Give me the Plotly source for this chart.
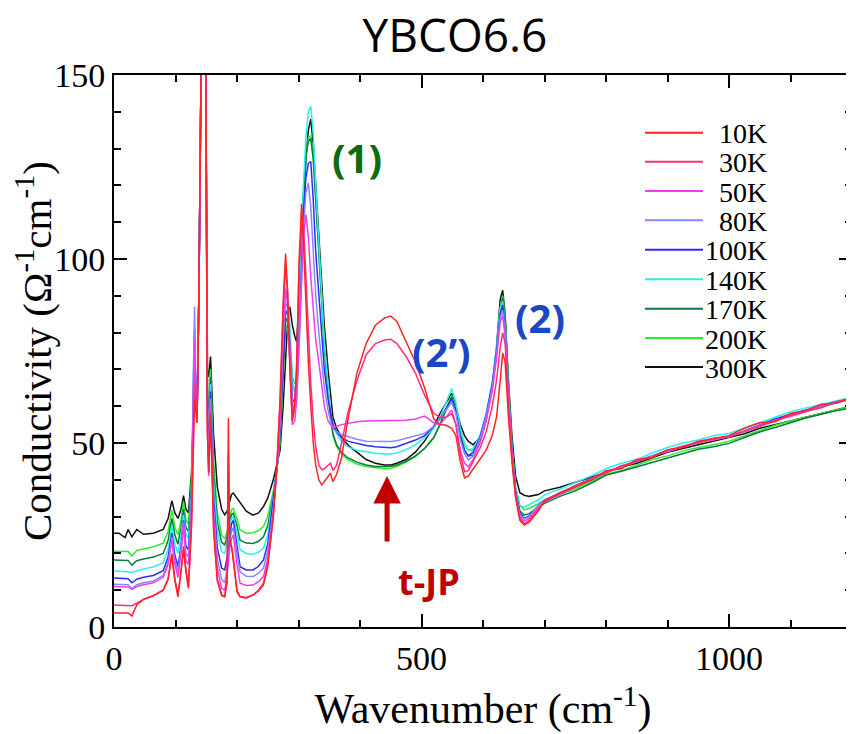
import plotly.graph_objects as go

# ---------------- data ----------------
wavenumber = [
    0, 8, 18, 23, 29, 37, 48, 64, 80, 88,
    94, 99, 104, 109, 113, 117, 121, 126, 129, 131, 133, 135, 138, 141, 145, 149, 152, 154, 157, 162, 168, 175,
    180, 184, 186, 188, 191, 194, 200, 205, 215, 226, 235, 243, 250, 259, 265, 270, 275,
    279, 282, 286, 290, 294, 297, 301, 305, 308, 312, 316, 320, 324, 328, 333, 338, 342, 348, 352, 356,
    362, 370, 380, 395, 410, 425, 440, 450, 460, 475, 490, 505, 520, 530, 540, 549, 556, 563, 570, 576, 584,
    595, 605, 615, 622, 628, 632, 636, 641, 647, 653, 660, 667, 675, 690,
    700, 725, 750, 775, 800, 825, 850, 875, 900, 925, 950, 975, 1000, 1025, 1050, 1075, 1100, 1125, 1150, 1175, 1200,
]

s10K = [
    3.8, 3.8, 3.8, 3.8, 3.0, 6.0, 7.5, 8.5, 10, 13,
    19.5, 12.5, 8.2, 14.5, 21, 15, 10.5, 27, 48, 62, 59, 55.5, 90, 160, 210, 160, 52, 42, 58, 26, 12.5, 8.5,
    8.2, 13, 56.8, 24, 22, 18, 9.5, 8.2, 7.8, 8.7, 9.8, 11.4, 16.5, 30, 45, 62, 88,
    101.5, 92, 70, 56, 62, 70, 100, 115, 105, 88, 72, 60, 50, 44, 40, 38.6, 39.5, 41, 41.8, 39.5,
    41.5, 46, 56, 69, 77, 82, 84, 84.5, 83, 77.5, 72, 65, 56.5, 55, 54.8, 54, 52, 45, 40.5, 41, 43,
    45.5, 48, 52, 57, 67, 74.5, 72, 58, 45, 35, 29, 27.7, 28.5, 31.5,
    34.3, 36.5, 38, 39.8, 42.5, 43, 45.5, 46, 48.2, 48.8, 50.5, 51.2, 52, 54, 55.5, 55.8, 58, 58.8, 60.5, 60.8, 62.5,
]
s30K = [
    6, 6, 6, 6, 5.8, 6.5, 7.5, 8.5, 10, 13,
    20, 13, 9, 15, 22, 15.5, 11, 28, 50, 66, 60, 55.5, 90, 160, 210, 160, 53, 42, 58, 27, 13, 8.8,
    8.3, 12, 46.7, 22, 22, 19, 10, 8.3, 8, 8.7, 10, 11.9, 17, 30, 44, 60, 86,
    98, 92, 72, 56, 60, 72, 98, 109, 110, 95, 78, 66, 56, 49, 44, 42.7, 43, 44, 44.5, 42.5,
    44, 50, 58, 67, 74, 77, 78, 78.2, 77, 73.5, 69, 63, 58, 57, 57, 58, 55, 47, 42.2, 42.5, 45,
    48.5, 53, 60, 67, 76, 80, 77, 62, 46, 36, 29.5, 28, 29, 32,
    34, 36.2, 38.5, 40, 42, 43.8, 45, 46.2, 48, 49.2, 50, 51.3, 51.6, 53.2, 54.5, 56, 57.5, 58.6, 59.6, 61.2, 62.2,
]
s50K = [
    11, 11, 11, 10.9, 10.2, 11, 11.5, 12, 13.5, 17,
    23.5, 17, 13.5, 20, 28, 18, 17, 32, 60, 78, 63, 56, 90, 160, 210, 160, 54, 41, 60, 29, 16, 10.5,
    10, 14, 18, 21, 24, 25, 17, 11.9, 11.3, 11.4, 12.3, 13.7, 18.5, 31, 43, 57, 80,
    92, 88, 72, 55, 56, 62, 78, 95, 106, 112, 106, 95, 85, 78, 72, 65, 60, 56, 55, 54.4,
    54.5, 55, 55.3, 55.8, 56, 56, 56, 56.2, 56, 56.2, 56.5, 57.3, 55.5, 55, 57, 59, 55, 48, 44.5, 43.5, 45.5,
    50, 56, 64, 73, 83, 84.5, 79, 63, 47, 36, 30, 28.7, 29.5, 32.5,
    34.3, 36, 38, 40.3, 42.2, 43.3, 45.2, 46.5, 47.6, 49, 50.3, 50.8, 51.7, 53.2, 54.6, 56.2, 57.2, 58.5, 59.8, 61, 61.8,
]
s80K = [
    11.6, 11.6, 11.5, 11.5, 10.4, 11.5, 12, 12.5, 14, 17.5,
    24.5, 18, 15, 21, 28.5, 20, 19, 33, 68, 87, 65, 56, 90, 160, 210, 160, 56, 46, 62, 32, 18.5, 13,
    12, 16, 19.5, 23, 26, 27, 20, 15, 13.8, 13.7, 14.6, 16, 20.5, 32, 43, 55, 78,
    88, 87, 77, 60, 58, 62, 76, 95, 108, 118, 120.6, 114, 102, 90, 80, 72, 65, 59, 56, 54,
    53, 52.3, 51.7, 51, 50.5, 50.4, 50.4, 50.4, 50.6, 51.2, 52, 52.6, 54.5, 56.5, 59, 61, 58, 51, 47, 45.4, 46.5,
    51, 57, 65, 74, 84, 86, 80, 64, 47, 36, 30.5, 29.3, 30, 33,
    34.5, 36.2, 38, 40, 42, 43.5, 45, 46.3, 47.8, 49, 50, 51, 51.7, 53, 54.8, 56.2, 57.5, 58.8, 60, 61, 62,
]
s100K = [
    13.3, 13.3, 13.2, 13.1, 12, 13, 13.5, 14, 15.3, 19,
    25.5, 19.5, 16.5, 22, 29, 22, 21, 34, 65, 81, 64, 56.5, 90, 160, 210, 160, 58, 48, 64, 35, 21.5, 16,
    15.5, 19, 22, 25, 28, 29, 22, 16.4, 15.5, 15.5, 16.5, 18.2, 22.5, 34, 43, 53, 73,
    86, 85, 77, 62, 61, 64, 78, 98, 112, 122, 126, 126.5, 116, 102, 90, 78, 70, 62, 58, 55,
    53, 51.5, 50.5, 49.8, 49.3, 49, 48.7, 48.7, 49, 49.8, 50.8, 52, 54.5, 56.5, 59.5, 62, 58.5, 52, 48, 46.5, 47.5,
    51.5, 57.5, 66, 75, 85, 87.5, 81, 65, 48, 37, 31, 29.5, 30.2, 33,
    34.5, 36.4, 38.3, 40.2, 42.2, 43.5, 45, 46.5, 48, 49, 50.2, 51, 51.8, 53.3, 55, 56.5, 57.8, 59, 60.2, 61.2, 62,
]
s140K = [
    15.2, 15.2, 15.1, 15, 14.8, 15.3, 15.8, 16.3, 17.5, 21,
    27.5, 22.5, 20, 25, 30.5, 25, 24, 36, 62, 76, 63, 56.5, 90, 160, 210, 160, 60, 53, 66, 39, 26, 20.5,
    20, 23, 25.5, 27.5, 29.5, 30, 25.5, 21, 20, 19.8, 20.3, 21.4, 25, 35, 43, 53, 75,
    91, 91.6, 82, 66, 64, 67, 83, 105, 120, 133, 140, 141.4, 134, 120, 104, 88, 77, 66, 59, 55,
    52.5, 50.5, 49, 48, 47.5, 47.2, 47, 47, 47.3, 48.2, 49.5, 51.5, 54, 57, 61, 64.8, 61, 54, 50, 48, 48.5,
    52, 58, 66.5, 76, 86.5, 88.5, 82, 66, 49, 38, 33, 32.5, 33.3, 34.5,
    35.9, 37.5, 39.2, 41, 43, 44.5, 45.5, 47.3, 48.8, 50, 50.8, 52, 52.6, 54, 55.6, 57, 58.5, 59.5, 60.5, 61.5, 62.5,
]
s170K = [
    18.2, 18.2, 18.2, 18.1, 16.8, 18, 18.5, 19, 20, 23.5,
    29.5, 25, 22.5, 27, 32, 27, 26, 38, 58, 72, 62, 57, 90, 160, 210, 160, 63, 57, 68, 42, 28.5, 23,
    22.3, 24.5, 26.5, 28.5, 30.5, 30.9, 27.5, 23.6, 22.8, 22.7, 23.3, 24.5, 27.5, 36, 43, 51, 68,
    84, 83, 78, 66, 64, 66, 82, 104, 118, 128, 132, 132.8, 127, 116, 102, 87, 76, 64, 57, 52.5,
    49.5, 47.5, 46, 44.8, 44, 43.6, 43.5, 43.6, 44, 45, 46.5, 48.5, 51.5, 55, 59, 62.5, 59, 52, 48, 46.5, 46.7,
    50, 56, 65, 75, 86, 89.5, 84, 66, 48, 37, 31.5, 30.4, 30.8, 32.5,
    33.6, 35.5, 37, 39, 41.3, 42.3, 43.5, 44.8, 46, 47.3, 48.3, 49, 49.9, 51.5, 53, 54.2, 55.5, 56.8, 57.8, 58.8, 59.5,
]
s200K = [
    20.6, 20.6, 20.6, 20.5, 19.3, 20.8, 21.2, 21.8, 22.8, 26,
    31.8, 27, 25, 29, 34, 29, 28, 40, 60, 74, 63, 57, 90, 160, 210, 160, 65, 60, 70, 45, 31, 25,
    24, 26, 28, 30, 31.8, 32.2, 29.5, 26.4, 25.5, 25.6, 26.2, 27.3, 30, 37, 43, 50, 66,
    82, 81, 78, 68, 66, 67, 82, 104, 118, 128, 133, 133.5, 128, 117, 103, 88, 77, 64, 57, 52,
    49, 47, 45.5, 44.3, 43.6, 43.2, 43, 43.1, 43.6, 44.8, 46.3, 48.5, 51.5, 55, 59.5, 63, 59.5, 53, 49.5, 48, 48,
    51, 57, 65.5, 75.5, 87, 90, 84.5, 66.5, 49, 38, 33, 31.8, 32.2, 33.5,
    34.5, 36, 37.5, 39.5, 41.5, 42.5, 44, 45.5, 46.5, 47.8, 48.8, 49.5, 50.5, 52, 53.5, 54.8, 56, 57, 58, 59, 60,
]
s300K = [
    25.5, 25.5, 24.3, 26.5, 24.5, 26.5, 25.2, 25.5, 26.5, 29.5,
    34.3, 31, 29.5, 32, 35.7, 32, 31, 42, 55, 65, 61, 58, 90, 160, 210, 160, 70, 68, 73.5, 52, 38, 32,
    30.5, 31.5, 33, 34.5, 36, 36.4, 35, 33.6, 31.5, 30.4, 31, 32.7, 35, 40, 44, 48, 60,
    73, 82, 87, 82, 79, 77.5, 88, 103, 115, 127, 135, 138, 131, 120, 108, 93, 82, 70, 63, 57,
    54, 51.5, 49.5, 47.5, 45.5, 44.5, 44, 44, 44.5, 45.5, 47.5, 50.5, 54.5, 58, 61, 63.5, 60, 55, 52, 50.5, 49.5,
    51.5, 57, 65, 76, 89, 91.5, 85, 68, 52, 41, 36.5, 35.8, 35.5, 36,
    37, 38, 39.3, 40.5, 42, 43.5, 44.5, 46, 47.5, 48.5, 49.5, 50.5, 51.3, 52.5, 54, 55, 56, 57, 58, 59, 60,
]

series_labels = ["10K", "30K", "50K", "80K", "100K", "140K", "170K", "200K", "300K"]
series_values = [s10K, s30K, s50K, s80K, s100K, s140K, s170K, s200K, s300K]
series_colors = ["#ff2424", "#ff2d7e", "#f03cf0", "#8686ff", "#2c2cf5",
                 "#28f0f0", "#0b7a3e", "#2aee2a", "#111111"]

x_ticks = [0, 500, 1000]
y_ticks = [0, 50, 100, 150]

for v in series_values:
    assert len(v) == len(wavenumber), len(v)

# ---------------- figure ----------------
# The page body has an 8 px default margin, so the figure is drawn 8 px smaller
# and the margins are shifted to keep the plot area where the reference has it.
OFF = 8
W, H = 854 - OFF, 734 - OFF
PLOT_L, PLOT_R, PLOT_T, PLOT_B = 114, 852, 75, 627          # screen pixels
ML, MR = PLOT_L - OFF, W - (PLOT_R - OFF)
MT, MB = PLOT_T - OFF, H - (PLOT_B - OFF)
PW, PH = PLOT_R - PLOT_L, PLOT_B - PLOT_T


def px_x(p):  # screen pixel -> paper x
    return (p - PLOT_L) / PW


def px_y(p):  # screen pixel -> paper y
    return (PLOT_B - p) / PH


fig = go.Figure()
# draw warm curves first so the cold ones sit on top like in the reference
for lab, vals, col in reversed(list(zip(series_labels, series_values, series_colors))):
    fig.add_trace(go.Scatter(x=wavenumber, y=vals, mode="lines", name=lab,
                             line=dict(color=col, width=1.5), showlegend=False))

serif = "Liberation Serif, Times New Roman, serif"
axis_common = dict(
    showline=True, linewidth=2, linecolor="black", mirror="allticks",
    ticks="inside", ticklen=13, tickwidth=1.5, tickcolor="black",
    showgrid=False, zeroline=False, automargin=False,
    tickfont=dict(family=serif, size=34, color="black"),
)
fig.update_xaxes(range=[0, 1200], tickvals=x_ticks, ticktext=[str(t) for t in x_ticks],
                 minor=dict(dtick=100, tick0=0, ticks="inside", ticklen=7, tickwidth=1.5, tickcolor="black"),
                 title=dict(text="Wavenumber (cm<sup>-1</sup>)", font=dict(family=serif, size=42, color="black"),
                            standoff=18),
                 **axis_common)
fig.update_yaxes(range=[0, 150], tickvals=y_ticks, ticktext=[str(t) for t in y_ticks],
                 minor=dict(dtick=10, tick0=0, ticks="inside", ticklen=7, tickwidth=1.5, tickcolor="black"),
                 title=dict(text="Conductivity (\u03a9<sup>-1</sup>cm<sup>-1</sup>)",
                            font=dict(family=serif, size=41, color="black"), standoff=0),
                 **axis_common)

# legend drawn by hand (long line samples, right-aligned labels as in the reference)
leg_y_px = [132.7, 161.7, 191, 220.3, 249.7, 279.3, 308.7, 338, 367]
shapes = []
annotations = []
for lab, col, ypx in zip(series_labels, series_colors, leg_y_px):
    shapes.append(dict(type="line", xref="paper", yref="paper",
                       x0=px_x(645), x1=px_x(703), y0=px_y(ypx), y1=px_y(ypx),
                       line=dict(color=col, width=2)))
    annotations.append(dict(text=lab, xref="paper", yref="paper", x=px_x(769), y=px_y(ypx + 1),
                            xanchor="right", yanchor="middle", showarrow=False,
                            font=dict(family=serif, size=28, color="black")))

bold = "Open Sans, Noto Sans, sans-serif"
annotations += [
    dict(text="<b>(1)</b>", x=395, y=127.6, xref="x", yref="y", showarrow=False,
         font=dict(family=bold, size=40, color="#0d6b12")),
    dict(text="<b>(2\u2019)</b>", x=532, y=75.0, xref="x", yref="y", showarrow=False,
         font=dict(family=bold, size=40, color="#1b46c6")),
    dict(text="<b>(2)</b>", x=693, y=84.2, xref="x", yref="y", showarrow=False,
         font=dict(family=bold, size=40, color="#1b46c6")),
    dict(text="<b>t-JP</b>", x=512, y=12.5, xref="x", yref="y", showarrow=False,
         font=dict(family=bold, size=36, color="#c00000")),
    dict(text="", x=444, y=41.0, xref="x", yref="y", ax=444, ay=22.8, axref="x", ayref="y",
         showarrow=True, arrowhead=2, arrowsize=1.1, arrowwidth=5, arrowcolor="#c00000"),
]

fig.update_layout(
    width=W, height=H,
    margin=dict(l=ML, r=MR, t=MT, b=MB),
    paper_bgcolor="white", plot_bgcolor="white",
    showlegend=False,
    title=dict(text="YBCO6.6", x=(455 - OFF) / W, xanchor="center", y=1 - (36 - OFF) / H, yanchor="middle",
               font=dict(family="Open Sans, sans-serif", size=46, color="black")),
    shapes=shapes, annotations=annotations,
)

fig.write_html("out.html")
